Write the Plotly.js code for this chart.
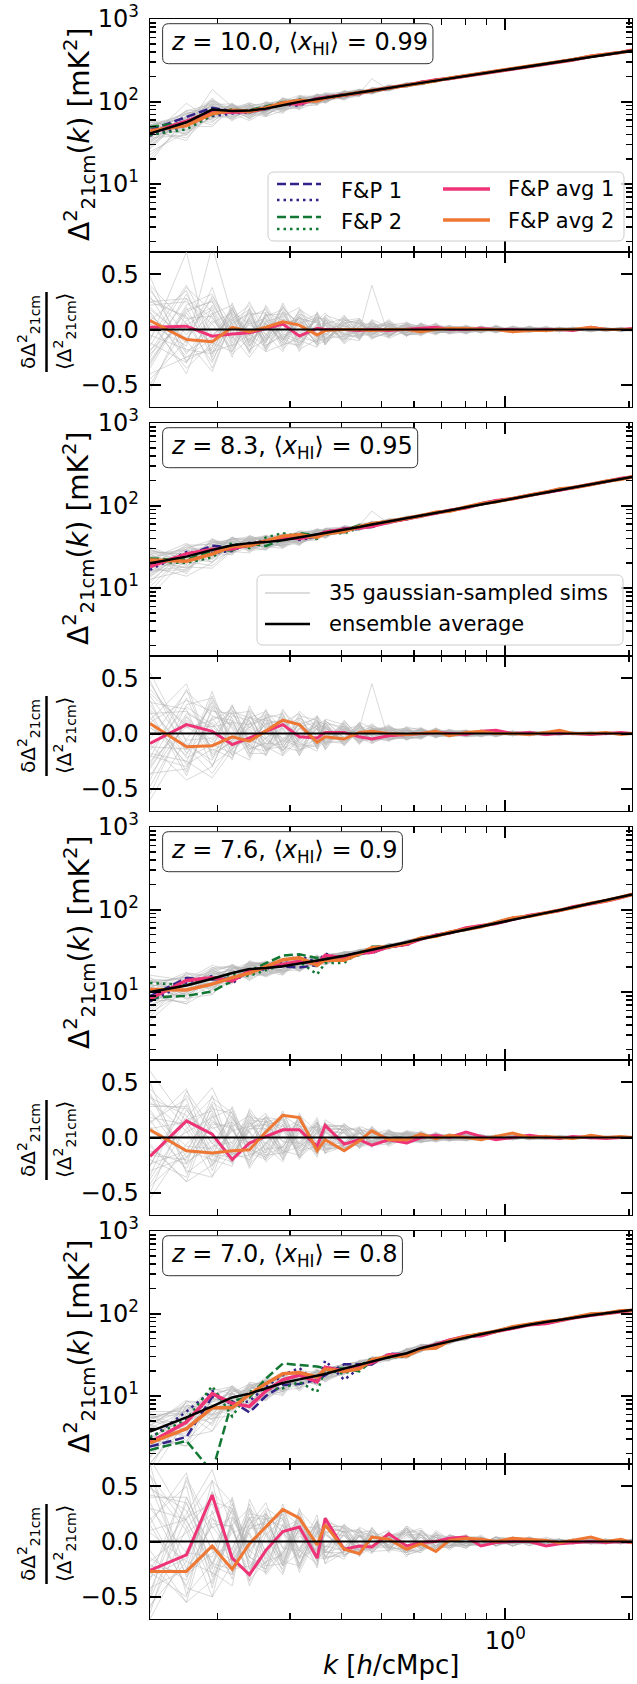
<!DOCTYPE html>
<html><head><meta charset="utf-8">
<script src="https://cdn.plot.ly/plotly-3.0.1.min.js"></script>
<style>body{margin:0;background:#fff}</style></head>
<body><div id="chart" style="width:637px;height:1684px"></div>
<script>
// ---------------- DATA ----------------
const K = [0.137,0.168,0.194,0.217,0.239,0.262,0.288,0.316,0.349,0.365,0.406,0.442,0.474,0.521,0.576,0.624,0.678,0.731,0.803,0.873,0.949,1.042,1.144,1.256,1.354,1.458,1.615,1.756,1.910,2.032];

const panelZ = ['10.0','8.3','7.6','7.0'];
const panelXHI = ['0.99','0.95','0.9','0.8'];

// ensemble average Δ² [mK²]
const ensA = [41,56,80,77,78,82,90,99,107,111,120,128,135,146,158,168,179,190,204,218,232,250,268,288,305,322,347,370,394,413];
const ensB = [20,24,29,33,35,36,38,41,45,47,51,55,59,64,70,75,81,87,95,103,111,121,132,144,154,164,180,195,210,222];
const ensC = [10,12,14.5,17,19,19.5,20.5,22,24,25,27.5,30,32.5,36,40,44,48,52,57,63,69,76,83,91,98,106,117,128,140,152];
const ensD = [3.7,5.5,7.5,9.6,10.7,12.5,14.4,15.9,17.5,18.5,21.5,24,26.5,29.5,33,38,42,46,51,56,61,67,73,79,84,89,95,101,106,110];

// fractional residual of F&P avg 1 / avg 2 w.r.t. ensemble average
const resAvg1A = [0.02,0.03,-0.06,-0.04,-0.03,0.01,0.05,-0.06,0.01,0,0,-0.01,0,-0.01,0,0.01,0.02,0,0,0.01,0,0,-0.01,0,0,-0.01,0.02,0,0,0.01];
const resAvg2A = [0.08,-0.09,-0.11,0.02,-0.02,0.02,0.07,0.04,-0.05,-0.01,0,0,-0.01,0,0,-0.02,0,0.01,0.01,0,0,-0.02,-0.01,-0.01,0,0,0.02,0,0,0];
const resAvg1B = [-0.09,0.08,0.02,-0.10,-0.04,0.02,0.08,-0.03,-0.04,0.01,0.01,-0.03,-0.05,-0.02,-0.01,0,0.01,0,-0.01,0.02,0.03,0,0.01,-0.01,0,0,-0.01,0,0.01,0];
const resAvg2B = [0.09,-0.12,-0.11,-0.03,-0.07,0.02,0.12,0.08,-0.08,-0.03,-0.05,0.01,0.02,0,-0.01,0,0.02,-0.02,0.01,0.02,0,0,-0.01,0.01,0.03,0,0,0.01,-0.01,0];
const resAvg1C = [-0.17,0.15,0.03,-0.20,-0.05,0.01,0.07,0.07,-0.08,0.11,-0.06,-0.02,-0.07,-0.02,-0.05,0,0.02,0,0.05,0.01,-0.02,0,0.02,0,-0.01,0.01,0,-0.01,0,0];
const resAvg2C = [0.07,-0.12,-0.14,-0.12,-0.11,0.05,0.20,0.18,-0.12,-0.02,-0.12,-0.03,0.06,-0.02,-0.02,0.03,-0.01,0.02,0,-0.02,0.01,0.04,0,0.01,0,-0.01,0.02,0,0.01,0];
const resAvg1D = [-0.26,-0.12,0.42,-0.15,-0.30,-0.08,0.09,0.13,-0.15,0.21,-0.07,-0.04,-0.05,0.07,-0.04,-0.01,0,0.03,0.04,-0.04,-0.01,0,0,-0.04,-0.02,-0.01,0,-0.01,0,-0.01];
const resAvg2D = [-0.27,-0.27,-0.04,-0.25,-0.02,0.13,0.29,0.21,-0.03,0.15,-0.07,-0.11,0.04,0.02,-0.07,-0.02,-0.09,0.01,0.03,0.02,0,0.03,0.02,0.01,-0.01,0.01,0.04,0,0.02,-0.01];

// half-difference between the two sims of each F&P pair (dashed = avg + h, dotted = avg - h), fraction of ensemble avg
const halfDiff1A = [0.08,0.12,0.11,0.03,0.02,-0.03,0.03,0.04,-0.03,0.02,0.02,-0.02,0.01,0.01,-0.01,0.01,0,0.01,0,0,0,0,0,0,0,0,0,0,0,0];
const halfDiff2A = [0.12,0.09,0.04,-0.03,0.03,0.04,0.02,-0.03,0.02,-0.01,0.01,0.02,-0.01,0,0.01,0,0,0,0,0,0,0,0,0,0,0,0,0,0,0];
const halfDiff1B = [0.08,-0.06,0.10,0.05,-0.05,0.03,-0.04,0.04,0.02,-0.03,0.02,0.02,-0.02,0.01,0.01,0,-0.01,0,0,0,0,0,0,0,0,0,0,0,0,0];
const halfDiff2B = [0.05,0.04,0.08,-0.10,0.06,-0.12,-0.10,0.05,0.04,-0.03,0.05,0.03,-0.02,0.02,-0.01,0.01,0,0,0,0,0,0,0,0,0,0,0,0,0,0];
const halfDiff1C = [0.06,0.08,-0.05,0.06,-0.04,0.05,-0.08,-0.17,-0.04,-0.06,0.05,0.03,-0.02,0.02,0.02,-0.01,0.01,0,0,0,0,0,0,0,0,0,0,0,0,0];
const halfDiff2C = [-0.22,-0.13,-0.16,-0.08,0.06,0.10,0.15,0.12,0.20,0.08,0.06,-0.04,0.03,0.02,-0.01,0.01,0,0,0,0,0,0,0,0,0,0,0,0,0,0];
const halfDiff1D = [-0.08,-0.30,-0.12,0.05,-0.11,-0.12,-0.15,-0.25,0.05,-0.24,0.20,0.05,-0.04,0.03,0.02,-0.02,0.01,0.01,0,0,0,0,0,0,0,0,0,0,0,0];
const halfDiff2D = [-0.13,-0.21,-0.80,0.16,-0.08,0.17,0.43,0.28,0.33,0.02,0.07,-0.06,-0.04,0.03,0.02,0.01,-0.01,0,0,0,0,0,0,0,0,0,0,0,0,0];

// 35 gaussian-sampled sims: residual w.r.t. ensemble average, in percent
const simsA = [
[-30,18,25,-10,8,-12,15,-5,10,-8,4,-6,3,-2,5,-3,2,-4,3,-2,1,-3,2,-1,2,-1,0,1,-2,1],
[15,-25,-8,20,-15,6,-10,18,-7,5,-9,3,-5,8,-2,4,-3,1,-2,3,-2,1,-1,2,-2,1,-1,0,2,-1],
[-45,-10,30,5,-20,14,-6,-12,15,-10,6,8,-4,3,-6,2,5,-2,1,-3,4,-2,3,-1,0,2,-1,1,-1,0],
[8,35,-20,-14,10,-8,20,4,-12,9,-5,-2,40,-6,3,-4,1,3,-2,1,-1,2,-3,1,1,-2,1,0,-1,1],
[25,12,-35,8,18,-15,-4,10,6,-14,10,-6,2,5,-4,6,-3,2,-3,2,0,-1,2,-2,1,0,-2,1,0,-1],
[-12,-30,14,22,-6,9,-14,-8,4,12,-7,5,-8,-3,7,-2,-4,3,2,-1,3,-2,-1,2,-1,1,2,-1,1,0],
[40,5,-12,-20,12,18,-9,14,-10,-4,3,-9,6,-5,2,3,-2,-3,4,-2,-2,3,0,1,-2,2,-1,1,-1,1],
[-20,28,10,-6,-25,-5,22,-16,12,6,-10,4,1,7,-5,-4,4,1,-1,3,-1,-2,1,-2,2,-1,1,-2,1,0],
[5,-15,75,12,-8,-20,6,9,-14,-10,8,10,-3,-7,4,1,-5,2,3,-3,2,1,-2,2,-1,-1,1,1,-1,1],
[-35,20,-25,16,5,10,-18,-3,8,15,-4,-7,9,2,-3,5,2,-4,-2,1,-3,2,1,-1,2,0,-1,-1,1,-1],
[18,-8,15,-25,20,-10,12,20,-5,-7,12,-3,-6,4,6,-5,3,3,-3,2,1,-2,-1,3,-1,1,0,2,-2,0],
[-8,40,-5,10,-12,22,-4,-10,-16,8,-6,6,4,-8,-1,2,-3,-1,2,-2,2,0,2,-2,0,-1,1,-1,1,1],
[30,-22,8,-8,15,-18,9,6,14,-12,5,-5,-2,6,-4,-3,6,-2,-1,3,-2,1,-2,0,1,1,-2,0,1,-1],
[-55,15,-15,18,-10,5,-12,12,-8,4,-11,9,-7,-3,5,3,-2,4,-3,-1,2,-3,1,1,-2,1,0,1,-1,0],
[10,-40,22,-4,25,-6,16,-14,5,-9,7,-8,5,3,-6,4,-1,-2,2,2,-1,2,-2,1,1,-2,1,-1,0,1],
[-18,6,-30,14,-5,20,-8,4,-12,11,-3,2,-9,5,3,-6,3,1,-4,2,1,-1,3,-2,-1,1,1,0,-1,0],
[22,25,5,-18,6,-12,24,-6,9,-5,13,-4,3,-6,-2,2,-4,3,1,-3,3,-2,0,2,-1,-1,2,-1,2,-1],
[-5,-18,-22,24,-14,8,-2,16,-6,-13,2,7,-5,4,-5,-1,2,-3,2,1,-2,1,-1,-1,2,1,-1,2,-1,1],
[35,-5,28,-2,-18,-9,10,-20,16,3,-8,-10,8,-4,1,-4,1,2,-2,-2,2,-1,2,1,-2,0,1,-1,1,-1],
[-25,32,-10,6,14,15,-16,8,-3,-6,9,5,-2,9,-6,5,-3,-1,3,1,-1,2,-1,-2,1,2,-1,0,-1,1],
[12,-12,38,-15,-4,-16,5,-9,10,10,-12,3,6,-5,4,-2,5,-3,-2,2,-3,1,1,-1,0,-1,2,1,0,-2],
[-40,-25,-18,10,22,4,-10,11,-15,-2,6,-6,-4,3,-3,6,-1,2,1,-3,1,-1,2,0,-1,2,-2,1,1,0],
[28,10,12,-22,-8,12,18,-12,3,7,-5,8,-8,-2,5,-3,3,1,-4,2,2,-2,-1,1,1,-1,0,-1,2,-1],
[-10,70,-28,4,16,-14,-6,5,11,-11,4,-4,2,7,-5,1,-2,-2,3,-1,-1,3,0,-2,1,1,-1,1,-1,0],
[48,-30,6,15,-12,7,12,-18,-9,5,10,-9,7,-6,2,4,-3,3,-1,1,-2,1,1,-1,-1,2,0,1,-1,1],
[-22,8,20,-12,10,-20,-14,14,7,-8,-6,6,-6,4,-2,-4,4,-1,2,-2,3,-2,-2,2,0,-1,1,-2,1,0],
[6,-35,-12,20,-20,16,8,-2,-13,13,7,-2,3,-7,6,2,-2,-3,-2,3,-1,0,2,1,-2,1,-1,0,0,1],
[-32,22,32,-5,4,-4,-20,18,8,-4,-9,10,-1,5,-4,-5,1,2,3,-1,1,-3,1,-1,2,-1,1,1,-2,0],
[20,-10,-38,9,-16,13,14,-7,-11,9,3,-7,5,-4,3,3,-4,1,-3,2,-2,2,-1,2,-1,0,-1,1,1,-1],
[-15,38,16,-20,8,-10,4,10,6,-14,11,1,-7,2,-5,-2,5,-2,1,-2,1,-1,-2,1,1,-1,2,0,-1,0],
[38,-20,-6,12,-22,6,-12,-14,14,4,-7,-5,4,-3,4,-4,-1,3,-2,3,-2,2,1,-2,0,1,-1,1,0,-1],
[-28,16,26,-8,18,-18,16,7,-4,-12,8,6,-3,6,-6,5,-3,-2,2,-1,2,-1,0,1,-2,2,0,-1,1,0],
[16,-28,-16,18,-6,11,-8,-16,12,8,-13,-2,8,-5,2,-1,3,2,-3,1,-1,2,-2,-1,1,-1,1,0,-1,2],
[-50,4,18,-16,12,-8,20,3,-10,-9,5,9,-4,3,-3,4,-2,-3,1,2,-2,-1,2,0,-1,1,-2,1,0,-1],
[25,28,-22,6,-10,14,-10,12,-6,6,-4,-8,6,-6,5,-2,2,1,-2,-2,3,-1,-1,2,1,-1,1,-1,1,0]];

const simsB = [
[22,-15,30,-8,12,-20,6,14,-9,5,-6,8,-3,2,-4,3,-2,1,2,-1,2,-1,1,-2,1,0,-1,1,0,-1],
[-38,10,-12,25,-6,8,-15,-4,12,-10,7,-3,5,-6,3,-2,4,-2,-1,2,-1,2,-2,1,0,1,-1,0,1,0],
[12,45,-20,-6,18,-12,10,-16,5,8,-9,4,-7,4,-2,5,-3,2,-2,1,1,-2,1,0,-1,1,1,-1,0,1],
[-20,-30,15,12,-22,16,-8,9,-12,-4,5,-8,2,6,-5,-3,2,-1,3,-2,-1,1,0,2,-1,-1,1,0,-1,1],
[55,-8,-28,-14,6,-5,18,-10,8,12,-4,6,-6,-3,4,-1,-3,3,-1,-2,2,-1,1,-1,2,0,-1,1,1,0],
[-15,24,8,-20,-10,22,-12,5,-6,-12,10,-5,4,-2,-4,4,1,-3,2,1,-2,2,-1,1,-1,1,0,-1,0,1],
[30,-35,22,6,-14,-8,14,-20,15,3,-7,9,-8,5,2,-4,3,-1,-2,2,0,-2,1,1,-2,1,1,0,-1,0],
[-48,12,-6,18,20,-15,-5,12,-3,-8,6,-6,7,-4,-3,2,-2,4,-1,-1,2,1,-2,1,1,-1,0,1,-1,0],
[8,-20,38,-12,-5,12,-20,-6,10,9,-11,3,-2,8,-5,-2,5,-2,1,2,-3,1,1,-1,0,1,-2,1,0,-1],
[-28,32,-16,-4,15,6,10,18,-14,-6,4,7,-5,-3,6,3,-4,1,2,-3,1,-1,0,2,-1,-1,1,-1,1,0],
[40,5,12,22,-18,-18,8,-8,5,-15,9,-9,3,4,-3,-5,2,3,-3,1,2,-1,-1,0,1,1,-1,0,-1,1],
[-10,-42,-30,10,8,14,-16,4,16,6,-8,2,6,-7,2,2,-1,-3,1,2,-1,2,-2,-1,1,0,1,-1,1,-1],
[18,20,4,-24,25,-4,5,-14,-8,11,3,-6,-4,3,5,-3,3,-2,-2,-1,3,-2,2,1,-1,1,-1,1,0,0],
[-60,-5,25,14,-12,10,-10,10,-11,-5,-6,10,5,-5,-3,4,-3,1,3,-2,-2,1,1,-2,2,-1,0,0,1,-1],
[26,-22,-10,-18,4,-14,22,-2,7,-9,12,-4,-9,2,3,-2,-1,3,-2,2,-1,-1,2,1,-1,0,2,-1,-1,1],
[-5,38,16,8,-16,18,-6,-12,-5,7,-5,5,45,-6,-2,5,-2,-2,2,-1,1,2,-2,0,1,-1,-1,1,0,0],
[34,-12,-36,-10,10,-6,-14,16,12,-3,7,-7,-6,6,-4,1,4,-3,-1,3,-2,0,1,-1,0,2,-1,0,1,-1],
[-32,18,6,20,-8,9,12,-8,-16,10,-10,4,8,-2,3,-4,2,2,-3,-2,2,-1,-1,2,-1,0,1,-1,1,0],
[15,-28,-14,-22,16,-10,3,20,6,-11,4,-9,4,5,-6,2,-3,-1,2,1,-1,2,1,-2,1,-1,0,1,-1,1],
[-42,26,32,4,-20,15,-18,-5,9,5,-6,6,-7,-4,4,5,-1,2,-2,-1,1,-2,2,0,-1,1,-1,0,1,-1],
[5,-10,-24,16,12,-16,16,-15,-10,13,8,-4,2,3,-5,-3,3,-3,1,2,-2,1,-1,1,0,-1,1,0,-2,1],
[48,-18,10,-16,-24,6,-8,8,14,-7,-9,8,-5,-6,2,3,-4,2,3,-2,0,-1,2,-1,1,1,-1,1,0,-1],
[-25,6,-8,24,5,20,-12,-16,-4,-13,11,-2,7,2,-3,-1,2,-1,-2,3,-1,2,-1,-1,2,-1,0,-1,1,0],
[20,-38,24,-2,-10,-20,20,6,10,4,-3,9,-3,-7,6,-4,1,3,-2,-1,2,-1,-2,1,-1,1,1,0,-1,1],
[-55,15,-18,-8,22,4,-4,-10,-12,9,6,-10,4,4,-2,4,-3,-2,1,2,-2,1,1,-2,1,0,-1,1,0,-1],
[10,30,20,18,-6,-12,-20,14,4,-8,-7,5,-8,3,4,-2,2,1,-3,-2,1,2,-1,1,0,-1,2,-1,1,0],
[-18,-25,-40,-15,14,12,9,-6,12,-14,5,-5,6,-5,-4,3,-2,-2,2,1,-1,-1,2,-1,-1,1,0,1,-1,1],
[36,8,6,10,-14,-9,-10,18,-14,6,-11,7,-2,6,1,-5,4,1,-1,-2,2,1,-1,0,2,-1,-1,0,1,-1],
[-12,-14,28,-20,9,17,14,-4,7,-6,3,-8,5,-2,-5,2,-3,3,1,1,-3,2,0,1,-2,1,1,-1,0,1],
[28,22,-30,12,-18,-4,-16,10,-6,10,-8,3,-6,-5,3,-3,5,-2,-2,2,1,-2,1,-1,1,-1,0,1,-1,0],
[-36,-32,14,-10,6,14,18,-18,16,-4,9,-6,3,7,-2,4,-1,-1,3,-1,-1,1,-2,2,-1,0,1,-1,0,1],
[45,-6,-4,26,-12,-16,-6,8,-9,12,-5,10,-9,-2,5,-2,3,-3,-1,1,2,-1,1,0,-1,1,-1,1,1,-1],
[-22,40,-22,-6,20,8,12,-12,4,-9,7,-7,4,3,-6,1,-2,2,2,-3,1,0,-1,2,0,-1,1,-1,0,0],
[6,-26,34,-14,-4,-14,-12,5,-11,7,-10,2,-1,-4,3,3,-2,-2,-2,2,-2,2,-1,-1,1,1,-1,0,-1,1],
[-30,16,-12,20,14,20,4,-20,8,-10,4,-3,9,-6,-3,-4,4,1,2,-2,1,-1,2,-1,0,1,0,-1,1,0]];

const simsC = [
[-25,30,-12,18,-8,15,-20,6,10,-14,8,-5,6,-4,3,-3,2,-2,1,2,-1,1,-1,1,0,-1,1,0,-1,0],
[40,-18,22,-16,14,-6,12,-18,-4,9,-10,7,-3,5,-4,2,-3,3,-2,-1,2,-1,1,0,-1,1,0,-1,1,0],
[-8,-40,-25,10,20,-20,6,12,-15,5,4,-9,8,-2,-5,4,1,-2,2,-2,0,2,-2,1,1,-1,-1,1,0,1],
[18,12,36,22,-16,8,-14,-8,14,-10,-6,5,-7,6,2,-4,3,1,-3,2,-2,-1,2,-1,1,0,1,-1,0,-1],
[-50,25,-5,-22,6,18,16,-12,-8,12,10,-3,2,-6,4,1,-4,2,1,-3,1,2,-1,-1,1,1,-2,1,1,0],
[10,-28,14,8,-24,-10,-9,20,6,-6,-8,9,-5,3,-2,-3,2,-3,2,1,-1,0,1,2,-2,0,1,-1,0,1],
[32,6,-35,-12,10,22,-4,-5,-14,16,5,-6,7,-5,5,3,-1,2,-2,-1,2,-2,0,1,1,-1,0,1,-1,0],
[-35,42,8,14,-6,-14,20,10,9,-5,-12,4,-4,-3,-3,5,-3,-1,3,2,-2,1,-1,-2,1,1,-1,0,1,-1],
[5,-12,-20,-26,26,6,-12,-16,12,8,7,-10,3,7,-6,-2,4,-2,-1,1,1,-2,2,0,-1,1,1,-1,0,1],
[-18,18,45,6,-12,-18,8,15,-10,-12,9,6,-8,2,4,-4,-2,3,1,-2,0,1,-1,1,-1,0,-1,1,1,0],
[50,-32,-15,-18,8,12,-16,4,-6,10,-4,-8,10,-4,-3,6,-1,-3,2,2,-1,-1,2,-1,1,-1,1,0,-1,1],
[-14,5,18,26,-18,-6,24,-10,16,-4,11,5,-6,5,2,-3,3,-2,-2,1,2,-2,1,1,-2,1,0,1,0,-1],
[25,-22,-8,-4,18,16,-10,18,-12,6,-9,-4,5,-7,5,1,-2,1,-3,2,-1,0,-1,2,0,-1,1,-1,1,0],
[-42,8,28,-14,-20,4,14,-20,4,-15,6,8,-4,4,-4,-2,5,-2,2,-2,1,1,-2,-1,2,1,-1,0,-1,1],
[14,35,-30,16,5,-22,-8,8,-16,11,-6,-6,4,-2,6,4,-3,2,-1,-1,-2,2,1,0,-1,0,1,-1,0,0],
[-30,-18,10,-8,22,10,18,-6,12,-8,13,-3,-9,6,-2,-5,1,3,2,-3,2,-1,0,1,1,-2,0,1,-1,1],
[36,20,-18,28,-10,-16,-14,14,-4,4,-5,10,6,-5,3,2,-4,-1,1,2,-1,2,-1,-1,0,1,1,-1,1,-1],
[-20,-36,30,-20,12,18,6,-14,8,-10,8,-7,-2,3,-6,3,2,-3,-2,1,1,-1,1,1,-1,0,-1,0,1,0],
[8,14,-22,12,-28,-4,-18,22,-10,14,-11,4,7,-4,4,-4,-2,2,3,-1,-2,1,0,-2,1,1,0,1,-1,-1],
[-55,-6,16,-10,16,14,10,-4,14,-6,5,-9,-5,7,-3,1,3,-2,-1,2,1,-2,2,0,-1,-1,2,0,0,1],
[28,28,-6,20,-14,-20,-6,10,-8,-12,-7,7,3,-6,2,-3,1,3,-2,-2,2,1,-1,1,0,1,-1,-1,1,0],
[-12,-24,38,-16,8,8,16,-18,6,10,10,-2,-7,3,5,-4,-3,1,2,1,-2,0,1,-1,1,-1,1,0,-1,1],
[44,10,-26,8,-22,16,-12,12,-14,-3,-6,6,8,-3,-4,5,-1,-2,1,-2,1,2,-2,1,-1,0,0,1,1,-1],
[-26,38,4,-24,14,-12,22,-8,4,13,-9,-5,-6,5,3,-2,2,-1,-2,3,-1,-1,1,0,1,-1,1,-1,0,0],
[16,-30,-36,14,-6,6,-20,16,-12,-7,12,3,5,-8,1,3,-3,3,1,-1,0,1,-2,2,-1,1,-1,0,1,-1],
[-38,16,24,-6,24,-14,8,-12,10,5,-4,-8,-4,4,-5,-3,4,-2,-2,2,-2,1,1,-1,0,1,0,-1,0,1],
[22,-8,-10,24,-4,20,-14,6,-18,9,7,9,-8,2,4,2,-2,1,3,-2,1,-2,0,1,-1,-1,1,1,-1,0],
[-6,-40,20,-18,-16,-8,20,-18,14,-10,-10,-4,9,-5,-2,-4,3,-3,-1,1,2,0,-1,-1,2,0,-1,0,1,-1],
[60,14,-14,6,10,12,-4,14,-6,12,6,-7,-3,6,-4,4,-1,2,-2,-2,-1,2,1,0,-1,1,1,-1,0,0],
[-44,-14,32,18,-10,-18,12,-10,8,-14,-8,8,4,-2,5,-1,3,-2,2,2,-2,-1,1,1,-1,0,-1,1,-1,1],
[30,26,-16,-22,20,4,-16,20,-10,6,9,-10,2,4,-3,-4,-2,3,-1,-1,2,-1,-1,2,0,-1,1,0,1,-1],
[-16,-20,12,10,-26,18,6,-6,18,-8,-4,5,-7,-6,6,2,2,-1,-3,1,0,2,-2,0,1,1,-1,1,-1,0],
[12,44,-24,-10,16,-8,-22,10,-4,10,11,-6,6,3,-4,-2,-3,2,2,-2,1,-1,1,-1,0,-1,1,0,0,1],
[-24,-12,26,22,-8,14,18,-16,6,-11,-7,4,-5,-4,3,5,-2,-3,1,1,-1,1,0,1,-1,1,0,-1,1,-1],
[38,-24,-2,-14,6,-16,-8,8,-14,7,4,-8,10,-5,-4,-2,4,1,-2,-1,2,-2,1,-1,1,0,-1,1,0,1]];

const simsD = [
[-45,35,-20,30,-15,25,-18,12,-10,15,-8,6,-5,8,-8,6,-6,4,-4,4,-2,2,-2,2,-2,0,2,-2,0,2],
[60,-25,45,-18,22,-10,15,-20,14,-6,10,-9,6,-3,10,-8,4,-4,6,-2,2,-4,2,0,2,-2,0,2,-2,0],
[-20,-55,-35,15,30,-28,8,18,-16,10,-12,5,-7,5,-6,10,-4,6,-2,-4,4,-2,0,2,-2,2,-2,0,2,-2],
[30,20,55,35,-25,12,-22,-10,18,-14,6,-8,9,-6,8,-4,8,-2,-6,4,-4,2,2,-2,0,-2,2,2,-2,0],
[-65,40,-8,-30,10,30,20,-15,-6,18,12,-5,3,-8,12,-6,-6,4,2,-4,2,4,-4,2,0,2,-2,-2,0,2],
[15,-40,20,12,-35,-18,-12,28,10,-10,-10,12,-6,4,-10,8,4,-8,4,2,-2,-2,4,-2,2,0,2,-2,2,-2],
[50,10,-50,-20,15,35,-6,-8,-20,22,7,-8,10,-7,-6,-4,6,-4,-2,6,-4,2,0,-2,2,-2,0,2,-2,0],
[-50,58,12,22,-8,-20,28,14,12,-8,-16,6,-4,-4,12,6,-8,2,4,-2,4,-4,2,2,-2,0,2,0,2,-2],
[8,-18,-28,-40,38,8,-18,-22,16,12,9,-14,4,10,-12,-8,6,-4,-4,2,-2,2,-2,4,0,-2,2,-2,0,2],
[-25,25,65,10,-18,-25,12,20,-14,-16,12,8,-10,3,8,10,-4,6,2,-4,2,-2,4,-2,-2,2,-2,0,2,0],
[70,-48,-20,-25,12,18,-22,5,-8,14,-5,-10,12,-5,-8,-10,4,-6,4,4,-4,0,-2,2,2,-2,0,2,-2,2],
[-18,8,25,38,-25,-8,34,-14,20,-5,14,7,-8,6,6,6,-6,2,-4,-2,4,2,-2,-2,2,0,-2,0,2,-2],
[35,-30,-10,-6,25,22,-14,25,-16,8,-12,-5,6,-9,12,-4,2,4,-6,2,-2,4,2,0,-2,2,2,-2,0,0],
[-60,12,40,-20,-28,6,20,-28,5,-20,8,10,-5,5,-10,8,-6,-4,4,-2,2,-4,0,2,2,-2,0,2,-2,2],
[20,50,-42,22,6,-30,-10,10,-22,15,-8,-7,5,-3,14,-6,8,2,-2,4,-2,-2,2,-4,0,2,-2,0,2,-2],
[-42,-25,14,-12,30,14,25,-8,16,-10,16,-4,-11,8,-4,4,-4,-6,6,-4,4,2,-2,0,-2,2,0,-2,2,0],
[48,28,-25,40,-14,-22,-20,20,-6,6,-6,13,7,-6,6,-8,6,4,-4,2,-2,0,4,-2,2,-2,2,0,-2,2],
[-28,-50,42,-28,16,25,8,-20,10,-14,10,-9,-3,4,-14,10,-2,-4,2,-4,4,-2,-2,2,0,0,-2,2,0,-2],
[10,20,-30,16,-40,-6,-25,30,-14,18,-14,5,9,-5,10,-6,4,2,-4,4,-2,4,-2,2,-2,2,0,-2,2,0],
[-70,-8,22,-14,22,20,14,-6,18,-8,6,-12,-6,9,-8,-2,-6,6,2,-2,2,-4,2,2,0,-2,2,0,-2,2],
[40,40,-8,28,-20,-28,-8,14,-10,-16,-9,9,4,-7,6,6,-4,-4,4,2,-4,2,0,-2,2,0,-2,2,0,-2],
[-15,-35,55,-22,12,12,22,-25,8,14,13,-3,-9,4,12,-8,6,2,-2,-4,2,2,-4,2,-2,2,0,-2,2,0],
[60,14,-38,12,-30,22,-16,16,-18,-4,-8,8,10,-4,-10,4,-6,4,4,-2,-2,0,2,0,2,-2,2,0,-2,2],
[-35,55,5,-34,20,-16,30,-10,6,18,-12,-6,-8,6,8,-6,2,-2,-4,4,-2,2,2,-4,0,2,-2,2,0,-2],
[22,-42,-50,20,-8,8,-28,22,-16,-9,15,4,6,-10,4,4,-8,6,2,-2,4,-4,0,2,-2,0,2,-2,2,0],
[-52,22,34,-8,34,-20,10,-16,14,7,-5,-10,-5,5,-12,-8,8,-4,-2,4,-2,4,-2,0,2,-2,0,2,-2,2],
[30,-10,-14,34,-6,28,-20,8,-24,12,9,11,-10,3,10,6,-4,2,6,-4,2,-2,0,2,-2,2,-2,0,2,-2],
[-8,-55,28,-25,-22,-12,28,-24,18,-14,-13,-5,12,-6,-6,-10,4,-6,-2,2,-2,2,2,-2,0,2,0,-2,0,2],
[75,18,-20,8,14,16,-6,18,-8,16,8,-9,-4,8,-10,10,-4,4,-4,-2,2,-2,2,2,-2,0,2,0,-2,0],
[-58,-18,45,25,-14,-25,16,-14,10,-20,-10,10,5,-3,12,-4,6,-4,4,4,-4,2,-2,0,2,-2,0,2,-2,2],
[42,35,-22,-30,28,5,-22,26,-14,8,12,-13,3,5,-8,-8,-4,6,-2,-2,4,-2,0,2,0,2,-2,-2,2,0],
[-22,-28,16,14,-36,25,8,-8,24,-10,-5,6,-9,-8,14,6,4,-2,-6,4,0,2,-2,-2,2,-2,2,0,0,-2],
[16,62,-32,-14,22,-10,-30,14,-5,13,14,-8,8,4,-10,-4,-8,4,4,-4,2,-2,4,0,-2,2,0,-2,2,0],
[-32,-15,36,30,-10,20,24,-22,8,-15,-9,5,-6,-5,8,12,-4,-6,2,2,-4,2,-2,2,0,-2,2,0,-2,2],
[52,-32,-4,-18,8,-22,-10,10,-18,9,5,-10,13,-7,-10,-6,10,2,-4,-2,2,-4,2,-2,2,0,-2,2,0,-2]];

// ---------------- FIGURE ----------------
const PANELS = [
  {z:panelZ[0], xhi:panelXHI[0], ens:ensA, r1:resAvg1A, r2:resAvg2A, h1:halfDiff1A, h2:halfDiff2A, sims:simsA},
  {z:panelZ[1], xhi:panelXHI[1], ens:ensB, r1:resAvg1B, r2:resAvg2B, h1:halfDiff1B, h2:halfDiff2B, sims:simsB},
  {z:panelZ[2], xhi:panelXHI[2], ens:ensC, r1:resAvg1C, r2:resAvg2C, h1:halfDiff1C, h2:halfDiff2C, sims:simsC},
  {z:panelZ[3], xhi:panelXHI[3], ens:ensD, r1:resAvg1D, r2:resAvg2D, h1:halfDiff1D, h2:halfDiff2D, sims:simsD}
];

const W=637,H=1684,ML=150,MR=5,MT=19,MB=65;
const PW=W-ML-MR, PH=H-MT-MB;
const PITCH=404, PSH=233, RSH=155;
const X=px=>(px-ML)/PW, Y=py=>(H-MB-py)/PH;
const FONT='DejaVu Sans';
const GRAY='rgba(180,180,180,0.5)', INDIGO='#332288', GREEN='#117733', PINK='#EE3377', ORANGE='#EE7733';
const DASH='9px,4px', DOT='2.5px,4px';
const nm=a=>a===1?'':String(a);

const traces=[];
PANELS.forEach((p,i)=>{
  const a=2*i+1,b=2*i+2;
  const xa='x'+nm(a), ya='y'+nm(a), xb='x'+nm(b), yb='y'+nm(b);
  const base={mode:'lines',hoverinfo:'skip',showlegend:false};
  p.sims.forEach(s=>traces.push({...base,x:K,y:p.ens.map((v,j)=>v*(1+s[j]/100)),xaxis:xa,yaxis:ya,line:{color:GRAY,width:1}}));
  p.sims.forEach(s=>traces.push({...base,x:K,y:s.map(v=>v/100),xaxis:xb,yaxis:yb,line:{color:GRAY,width:1}}));
  const fp=(r,h,sg)=>p.ens.map((v,j)=>v*(1+r[j]+sg*h[j]));
  [[p.r1,p.h1,1,INDIGO,DASH],[p.r1,p.h1,-1,INDIGO,DOT],[p.r2,p.h2,1,GREEN,DASH],[p.r2,p.h2,-1,GREEN,DOT]]
    .forEach(([r,h,sg,c,d])=>traces.push({...base,x:K,y:fp(r,h,sg),xaxis:xa,yaxis:ya,line:{color:c,width:2.5,dash:d}}));
  traces.push({...base,x:K,y:p.ens.map((v,j)=>v*(1+p.r1[j])),xaxis:xa,yaxis:ya,line:{color:PINK,width:3.5}});
  traces.push({...base,x:K,y:p.ens.map((v,j)=>v*(1+p.r2[j])),xaxis:xa,yaxis:ya,line:{color:ORANGE,width:3.5}});
  traces.push({...base,x:K,y:p.ens,xaxis:xa,yaxis:ya,line:{color:'black',width:2.5}});
  traces.push({...base,x:K,y:p.r1,xaxis:xb,yaxis:yb,line:{color:PINK,width:3}});
  traces.push({...base,x:K,y:p.r2,xaxis:xb,yaxis:yb,line:{color:ORANGE,width:3}});
  traces.push({...base,x:K,y:p.ens.map(v=>v/v-1),xaxis:xb,yaxis:yb,line:{color:'black',width:1.8}});
});

const tickfont={family:FONT,size:24,color:'black'};
const layout={width:W,height:H,margin:{l:ML,r:MR,t:MT,b:MB},paper_bgcolor:'white',plot_bgcolor:'white',
  showlegend:false,font:{family:FONT,size:24,color:'black'},shapes:[],annotations:[]};

const xMinor=[0.2,0.3,0.4,0.5,0.6,0.7,0.8,0.9,2];
const yMinor=[];[1,10,100].forEach(d=>{for(let m=2;m<=9;m++)yMinor.push(m*d);});
for(let a=1;a<=8;a++){
  const i=Math.floor((a-1)/2), ps=(a%2===1), T=MT+PITCH*i;
  const top=ps?T:T+PSH, bot=ps?T+PSH:T+PSH+RSH;
  layout['xaxis'+nm(a)]={type:'log',range:[Math.log10(K[0]),Math.log10(K[K.length-1])],domain:[0,1],anchor:'y'+nm(a),
    tickmode:'array',tickvals:[1],ticktext:['10<sup>0</sup>'],showticklabels:a===8,tickfont,
    ticks:'inside',ticklen:11,tickwidth:2,tickcolor:'black',mirror:'ticks',showline:true,linecolor:'black',linewidth:1.3,
    showgrid:false,zeroline:false,
    minor:{tickmode:'array',tickvals:xMinor,ticks:'inside',ticklen:6,tickwidth:1.5,tickcolor:'black',showgrid:false}};
  if(ps){
    layout['yaxis'+nm(a)]={type:'log',range:[Math.log10(1.5),3],domain:[Y(bot),Y(top)],anchor:'x'+nm(a),
      tickmode:'array',tickvals:[10,100,1000],ticktext:['10<sup>1</sup>','10<sup>2</sup>','10<sup>3</sup>'],tickfont,
      ticks:'inside',ticklen:11,tickwidth:2,tickcolor:'black',mirror:'ticks',showline:true,linecolor:'black',linewidth:1.3,
      showgrid:false,zeroline:false,ticklabelstandoff:5,
      minor:{tickmode:'array',tickvals:yMinor,ticks:'inside',ticklen:6,tickwidth:1.5,tickcolor:'black',showgrid:false}};
  } else {
    layout['yaxis'+nm(a)]={range:[-0.7,0.7],domain:[Y(bot),Y(top)],anchor:'x'+nm(a),
      tickmode:'array',tickvals:[-0.5,0,0.5],ticktext:['\u22120.5','0.0','0.5'],tickfont,
      ticks:'inside',ticklen:11,tickwidth:2,tickcolor:'black',mirror:'ticks',showline:true,linecolor:'black',linewidth:1.3,
      showgrid:false,zeroline:false,ticklabelstandoff:5};
  }
}

function roundRect(x0,y0,x1,y1,r){
  return `M${X(x0+r)},${Y(y0)} L${X(x1-r)},${Y(y0)} Q${X(x1)},${Y(y0)} ${X(x1)},${Y(y0+r)} L${X(x1)},${Y(y1-r)} Q${X(x1)},${Y(y1)} ${X(x1-r)},${Y(y1)} L${X(x0+r)},${Y(y1)} Q${X(x0)},${Y(y1)} ${X(x0)},${Y(y1-r)} L${X(x0)},${Y(y0+r)} Q${X(x0)},${Y(y0)} ${X(x0+r)},${Y(y0)} Z`;
}
const ctx=document.createElement('canvas').getContext('2d');
function measure(parts){let w=0;parts.forEach(([t,s,it])=>{ctx.font=(it?'italic ':'')+s+'px "'+FONT+'"';w+=ctx.measureText(t).width;});return w;}
function hline(x0,x1,y,color,width,dash){layout.shapes.push({type:'line',xref:'paper',yref:'paper',x0:X(x0),x1:X(x1),y0:Y(y),y1:Y(y),layer:'above',line:{color,width,dash:dash||'solid'}});}
function text(t,x,y,size,opts){layout.annotations.push(Object.assign({text:t,xref:'paper',yref:'paper',x:X(x),y:Y(y),showarrow:false,xanchor:'left',yanchor:'middle',font:{family:FONT,size,color:'black'}},opts||{}));}

PANELS.forEach((p,i)=>{
  const T=MT+PITCH*i;
  const w=measure([['z',24,1],[' = '+p.z+', \u27E8',24,0],['x',24,1],['HI',16.8,0],['\u27E9 = '+p.xhi,24,0]]);
  layout.shapes.push({type:'path',xref:'paper',yref:'paper',layer:'above',path:roundRect(162.6,T+4.7,169+w+8,T+44.7,6),
    line:{color:'#333333',width:1},fillcolor:'white'});
  text('<i>z</i> = '+p.z+', \u27E8<i>x</i><sub>HI</sub>\u27E9 = '+p.xhi,169,T+24.5,24);
  text('\u0394<sup>2</sup><sub>21cm</sub>(<i>k</i>) [mK<sup>2</sup>]',79,T+116,28,{textangle:-90,xanchor:'center'});
  text('\u03B4\u0394<sup>2</sup><sub>21cm</sub>',28,T+313,20,{textangle:-90,xanchor:'center'});
  text('\u27E8\u0394<sup>2</sup><sub>21cm</sub>\u27E9',64,T+313,20,{textangle:-90,xanchor:'center'});
  layout.shapes.push({type:'line',xref:'paper',yref:'paper',x0:X(46.5),x1:X(46.5),y0:Y(T+273),y1:Y(T+353),line:{color:'black',width:2.5}});
});

// legend 1 (top panel)
layout.shapes.push({type:'path',xref:'paper',yref:'paper',layer:'above',path:roundRect(268,172,624,241,6),line:{color:'#cccccc',width:1},fillcolor:'rgba(255,255,255,0.8)'});
hline(277,321,184,INDIGO,2.5,DASH); hline(277,321,200,INDIGO,2.5,DOT);
hline(277,321,217,GREEN,2.5,DASH); hline(277,321,229,GREEN,2.5,DOT);
hline(443,490,189,PINK,3.5); hline(443,490,220,ORANGE,3.5);
text('F&amp;P 1',339,191,21); text('F&amp;P 2',339,222,21);
text('F&amp;P avg 1',506,189,21); text('F&amp;P avg 2',506,221,21);
// legend 2 (second PS panel)
const T1=MT+PITCH;
layout.shapes.push({type:'path',xref:'paper',yref:'paper',layer:'above',path:roundRect(257,T1+152,623,T1+222,6),line:{color:'#cccccc',width:1},fillcolor:'rgba(255,255,255,0.8)'});
hline(265,310,T1+170,'#d0d0d0',1.5); hline(265,310,T1+201,'black',2.5);
text('35 gaussian-sampled sims',327,T1+170,21); text('ensemble average',327,T1+201,21);

text('<i>k</i> [<i>h</i>/cMpc]',(ML+W-MR)/2,1665,26,{xanchor:'center'});

Plotly.newPlot('chart',traces,layout,{staticPlot:true,displayModeBar:false});
</script></body></html>
